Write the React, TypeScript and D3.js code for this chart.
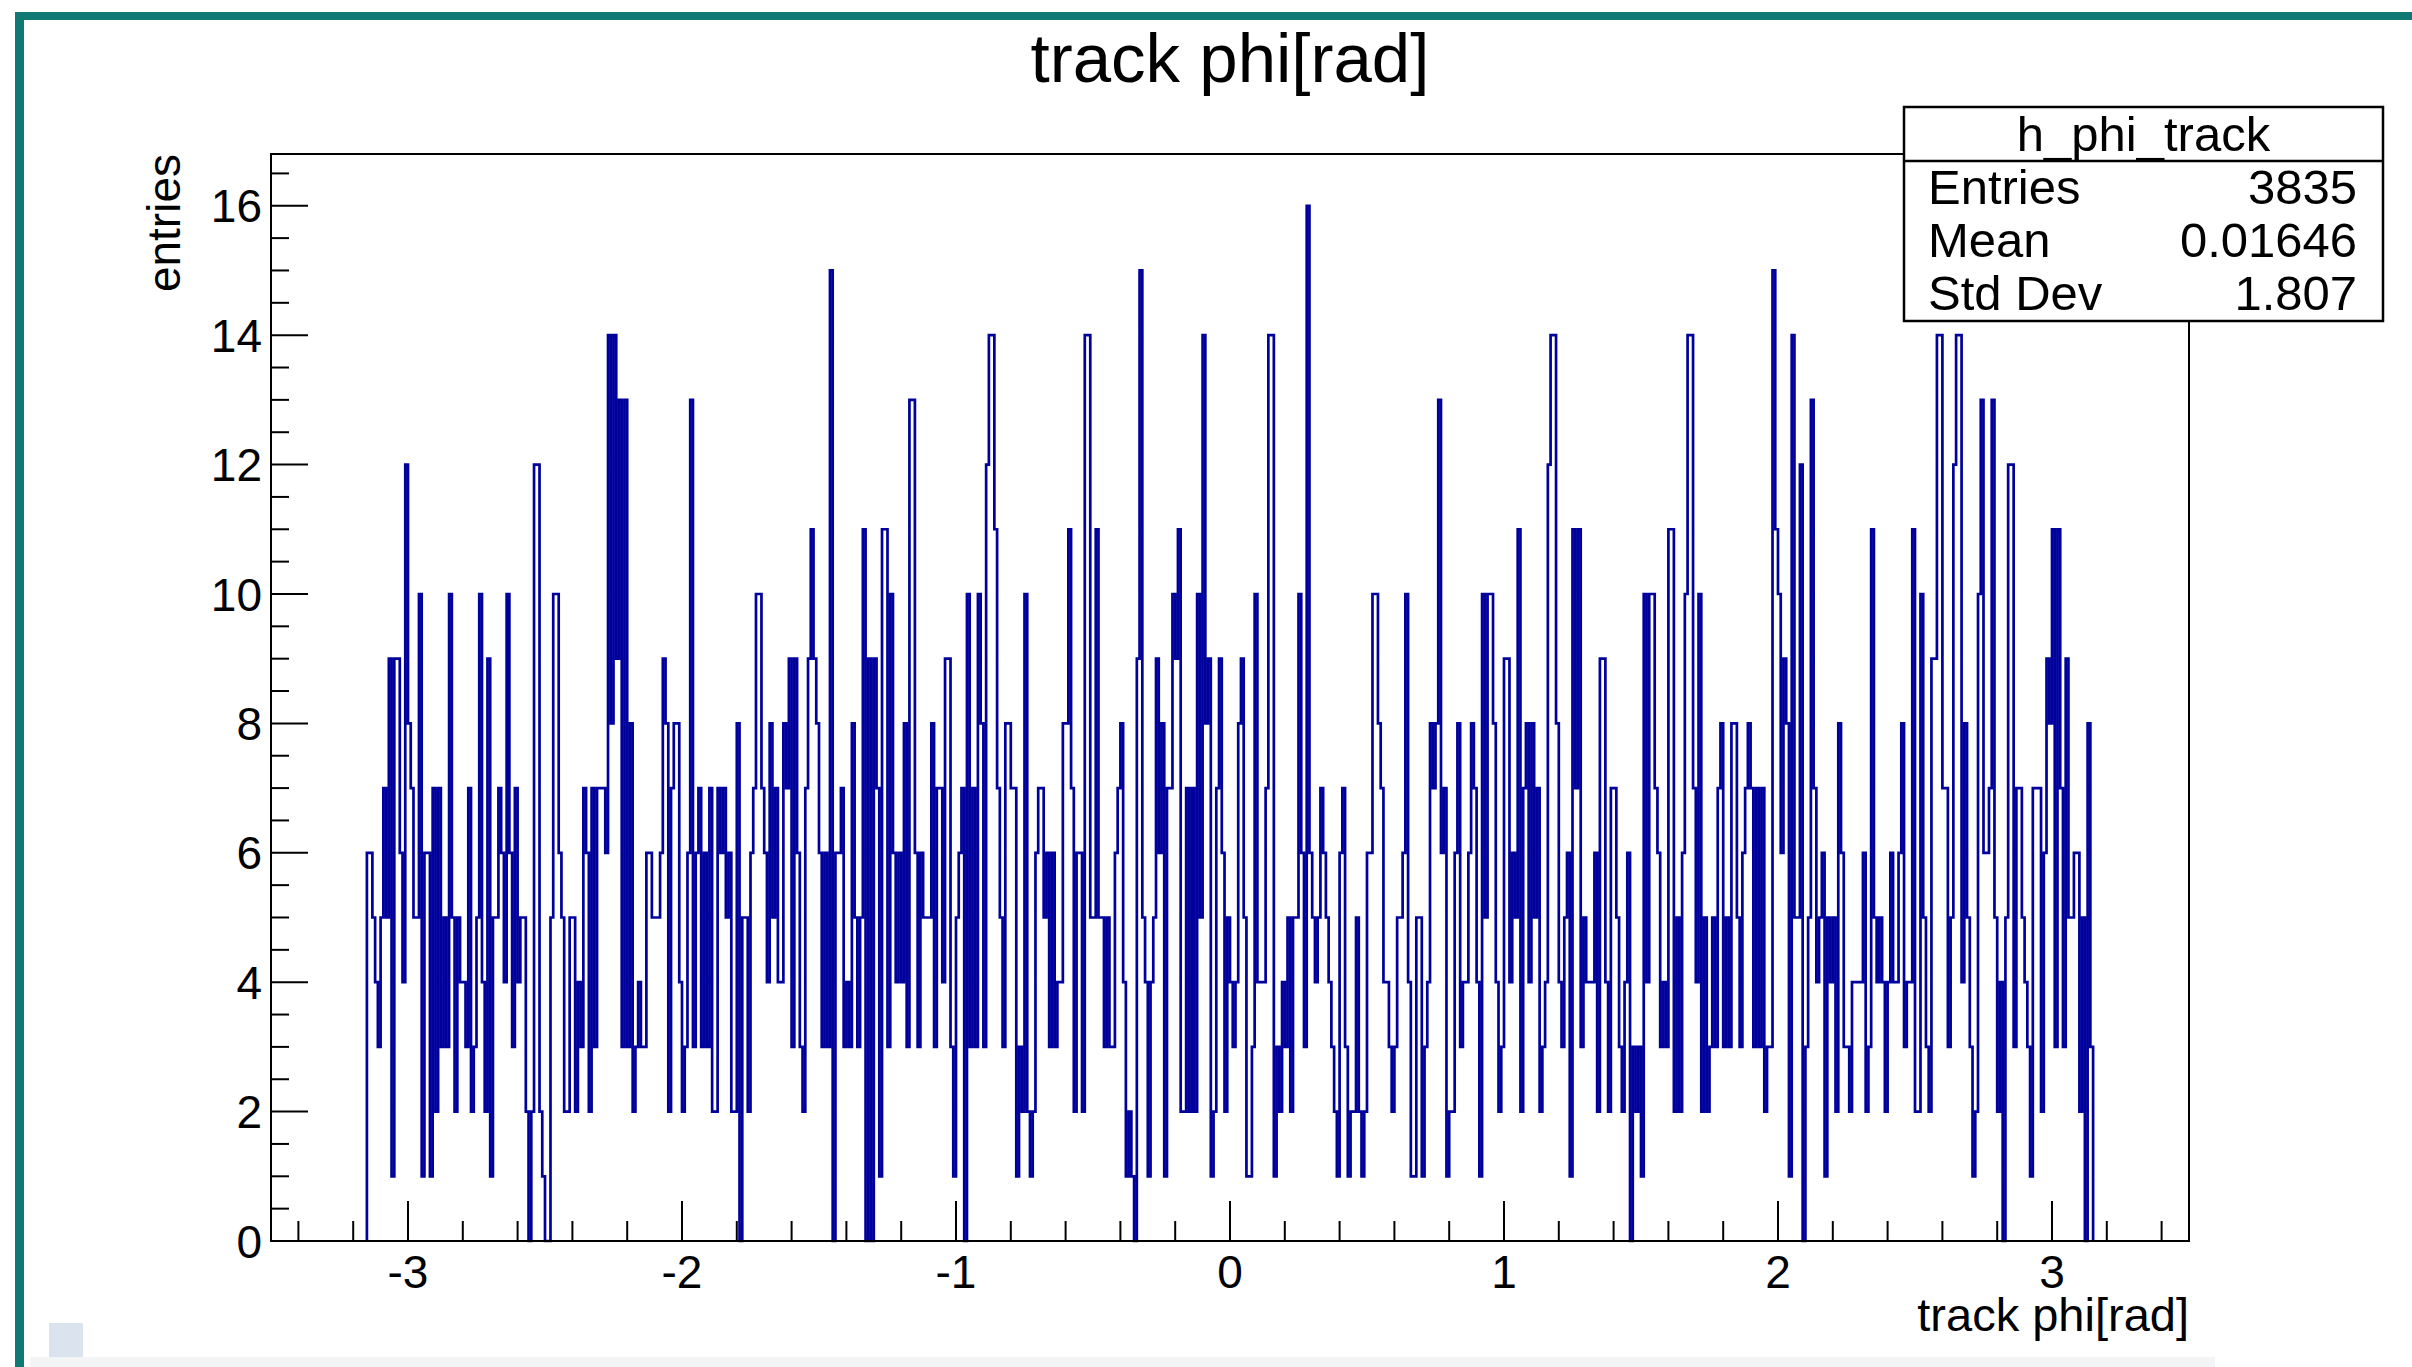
import React from 'react';
import * as d3 from 'd3';

// histogram h_phi_track : bins of 0.01 rad starting at -3.15
const phiMin = -3.15;
const binWidth = 0.01;
const counts = [
  6, 6, 5, 4, 3, 5, 7, 5, 9, 1, 9, 9, 6, 4, 12, 8, 7, 5, 5, 10, 1, 6, 6, 1, 7, 2, 7, 3, 5, 3,
  10, 5, 2, 5, 4, 4, 3, 7, 2, 3, 5, 10, 4, 2, 9, 1, 5, 5, 7, 6, 4, 10, 6, 3, 7, 4, 5, 5, 2, 0,
  2, 12, 12, 2, 1, 0, 0, 5, 10, 10, 6, 5, 2, 2, 5, 5, 2, 4, 3, 7, 6, 2, 7, 3, 7, 7, 7, 6, 14, 8,
  14, 9, 13, 3, 13, 3, 8, 2, 3, 4, 3, 3, 6, 6, 5, 5, 5, 6, 9, 8, 2, 7, 8, 8, 4, 2, 3, 6, 13, 3,
  6, 7, 3, 6, 3, 7, 2, 2, 7, 6, 7, 5, 6, 2, 2, 8, 0, 5, 5, 2, 6, 7, 10, 10, 7, 6, 4, 8, 5, 7,
  4, 4, 8, 7, 9, 3, 9, 6, 3, 2, 7, 9, 11, 9, 8, 6, 3, 6, 3, 15, 0, 6, 6, 7, 3, 4, 3, 8, 5, 3,
  5, 11, 0, 9, 0, 9, 7, 1, 11, 11, 3, 10, 6, 4, 6, 4, 8, 3, 13, 13, 6, 3, 6, 5, 5, 5, 8, 3, 7, 7,
  4, 9, 9, 3, 1, 5, 6, 7, 0, 10, 3, 7, 3, 10, 8, 3, 12, 14, 14, 11, 7, 5, 3, 8, 8, 7, 7, 1, 3, 2,
  10, 2, 1, 2, 6, 7, 7, 5, 6, 3, 6, 3, 4, 4, 8, 8, 11, 7, 2, 6, 6, 2, 14, 14, 5, 5, 11, 5, 5, 3,
  5, 3, 3, 6, 7, 8, 4, 1, 2, 1, 0, 9, 15, 5, 4, 1, 4, 5, 9, 6, 8, 1, 7, 7, 10, 9, 11, 2, 2, 7,
  2, 7, 2, 10, 5, 14, 8, 9, 1, 2, 7, 9, 6, 2, 5, 4, 3, 4, 8, 9, 5, 1, 1, 3, 10, 4, 4, 4, 7, 14,
  14, 1, 3, 2, 4, 3, 5, 2, 5, 5, 10, 6, 3, 16, 6, 5, 4, 5, 7, 6, 5, 4, 3, 2, 1, 6, 7, 3, 1, 2,
  2, 5, 2, 1, 2, 6, 6, 10, 10, 8, 7, 4, 4, 3, 2, 3, 5, 5, 6, 10, 4, 1, 1, 5, 5, 1, 3, 4, 8, 7,
  8, 13, 6, 7, 1, 2, 2, 6, 8, 3, 4, 4, 6, 8, 7, 4, 1, 10, 5, 10, 10, 8, 4, 2, 3, 9, 9, 4, 6, 5,
  11, 2, 7, 8, 4, 8, 5, 7, 2, 3, 4, 12, 14, 14, 8, 4, 3, 5, 6, 1, 11, 7, 11, 3, 5, 4, 4, 4, 6, 2,
  9, 9, 4, 2, 7, 7, 5, 3, 2, 4, 6, 0, 3, 2, 3, 1, 10, 4, 10, 10, 7, 6, 3, 4, 3, 11, 11, 2, 5, 2,
  6, 10, 14, 14, 7, 4, 10, 2, 5, 2, 3, 5, 3, 7, 8, 3, 5, 3, 8, 8, 5, 3, 6, 7, 8, 7, 3, 7, 3, 7,
  2, 3, 3, 15, 11, 10, 6, 9, 8, 1, 14, 5, 5, 12, 0, 3, 5, 13, 7, 4, 5, 6, 1, 5, 4, 5, 2, 8, 6, 3,
  3, 2, 4, 4, 4, 4, 6, 2, 3, 11, 5, 4, 5, 4, 2, 4, 6, 4, 4, 6, 8, 3, 4, 4, 11, 2, 2, 10, 5, 3,
  2, 9, 9, 14, 14, 7, 7, 3, 5, 12, 14, 14, 4, 8, 5, 3, 1, 2, 10, 13, 6, 6, 7, 13, 5, 2, 4, 0, 5, 12,
  12, 3, 7, 7, 5, 4, 3, 1, 7, 7, 7, 2, 6, 9, 8, 11, 3, 11, 7, 3, 9, 5, 5, 6, 6, 2, 5, 0, 8, 3,
];

const xTickLabels = ['-3', '-2', '-1', '0', '1', '2', '3'];
const yTickLabels = ['0', '2', '4', '6', '8', '10', '12', '14', '16'];
const statsTitle = 'h_phi_track';
const statsRows = [
  ['Entries', '3835'],
  ['Mean', '0.01646'],
  ['Std Dev', '1.807'],
];

const W = 2412;
const H = 1367;
const frame = { left: 271, right: 2189, top: 154, bottom: 1241 };
const font = '"Liberation Sans", Arial, Helvetica, sans-serif';
const lineColor = '#00009c';

export default function App() {
  const x = d3.scaleLinear().domain([-3.5, 3.5]).range([frame.left, frame.right]);
  const y = d3.scaleLinear().domain([0, 16.8]).range([frame.bottom, frame.top]);

  // step outline, closed down to zero at both ends
  const pts: [number, number][] = [[phiMin, 0]];
  counts.forEach((c, i) => pts.push([phiMin + i * binWidth, c]));
  const phiMax = phiMin + counts.length * binWidth;
  pts.push([phiMax, counts[counts.length - 1]]);
  pts.push([phiMax, 0]);
  const line = d3.line<[number, number]>()
    .x(d => x(d[0]))
    .y(d => y(d[1]))
    .curve(d3.curveStepAfter);

  const xMinor = d3.range(-34, 35, 2).map(v => v / 10);
  const yMinor = d3.range(0, 34).map(v => v * 0.5);

  const statsBox = { x: 1904, y: 107, w: 479, h: 214, div: 161 };

  return (
    <svg width={W} height={H} style={{ position: 'absolute', left: 0, top: 0, background: '#fff' }}
      fontFamily={font}>
      {/* window edge */}
      <rect x={0} y={0} width={W} height={H} fill="#fff" />
      <rect x={15} y={12} width={W - 15} height={8} fill="#0f7a73" />
      <rect x={15} y={12} width={9} height={H - 12} fill="#0f7a73" />
      <rect x={30} y={1357} width={2185} height={10} fill="#f3f4f6" />
      <rect x={49} y={1323} width={34} height={34} fill="#dbe4ee" />

      {/* title */}
      <text x={1230} y={82} fontSize={69} textAnchor="middle">track phi[rad]</text>

      {/* histogram */}
      <path d={line(pts) ?? ''} fill="none" stroke={lineColor} strokeWidth={2.7} />

      {/* frame */}
      <rect x={frame.left} y={frame.top} width={frame.right - frame.left}
        height={frame.bottom - frame.top} fill="none" stroke="#000" strokeWidth={2} />

      {/* x ticks */}
      {xMinor.map(v => {
        const major = Math.abs(v - Math.round(v)) < 1e-6;
        return <line key={'xt' + v} x1={x(v)} x2={x(v)} y1={frame.bottom}
          y2={frame.bottom - (major ? 40 : 20)} stroke="#000" strokeWidth={2} />;
      })}
      {xTickLabels.map(t => (
        <text key={'xl' + t} x={x(+t)} y={1288} fontSize={46} textAnchor="middle">{t}</text>
      ))}
      <text x={frame.right} y={1331} fontSize={47} textAnchor="end">track phi[rad]</text>

      {/* y ticks */}
      {yMinor.map(v => {
        const major = v % 2 === 0;
        return <line key={'yt' + v} x1={frame.left} x2={frame.left + (major ? 37 : 18)}
          y1={y(v)} y2={y(v)} stroke="#000" strokeWidth={2} />;
      })}
      {yTickLabels.map(t => (
        <text key={'yl' + t} x={262} y={y(+t)} dy="0.36em" fontSize={46} textAnchor="end">{t}</text>
      ))}
      <text transform={`translate(180, ${frame.top}) rotate(-90)`} fontSize={46}
        textAnchor="end">entries</text>

      {/* stats box */}
      <rect x={statsBox.x} y={statsBox.y} width={statsBox.w} height={statsBox.h}
        fill="#fff" stroke="#000" strokeWidth={2.5} />
      <line x1={statsBox.x} x2={statsBox.x + statsBox.w} y1={statsBox.div} y2={statsBox.div}
        stroke="#000" strokeWidth={2.5} />
      <text x={statsBox.x + statsBox.w / 2} y={151} fontSize={49} textAnchor="middle">{statsTitle}</text>
      {statsRows.map((r, i) => (
        <g key={r[0]}>
          <text x={1928} y={204 + i * 53} fontSize={49}>{r[0]}</text>
          <text x={2357} y={204 + i * 53} fontSize={49} textAnchor="end">{r[1]}</text>
        </g>
      ))}
    </svg>
  );
}
